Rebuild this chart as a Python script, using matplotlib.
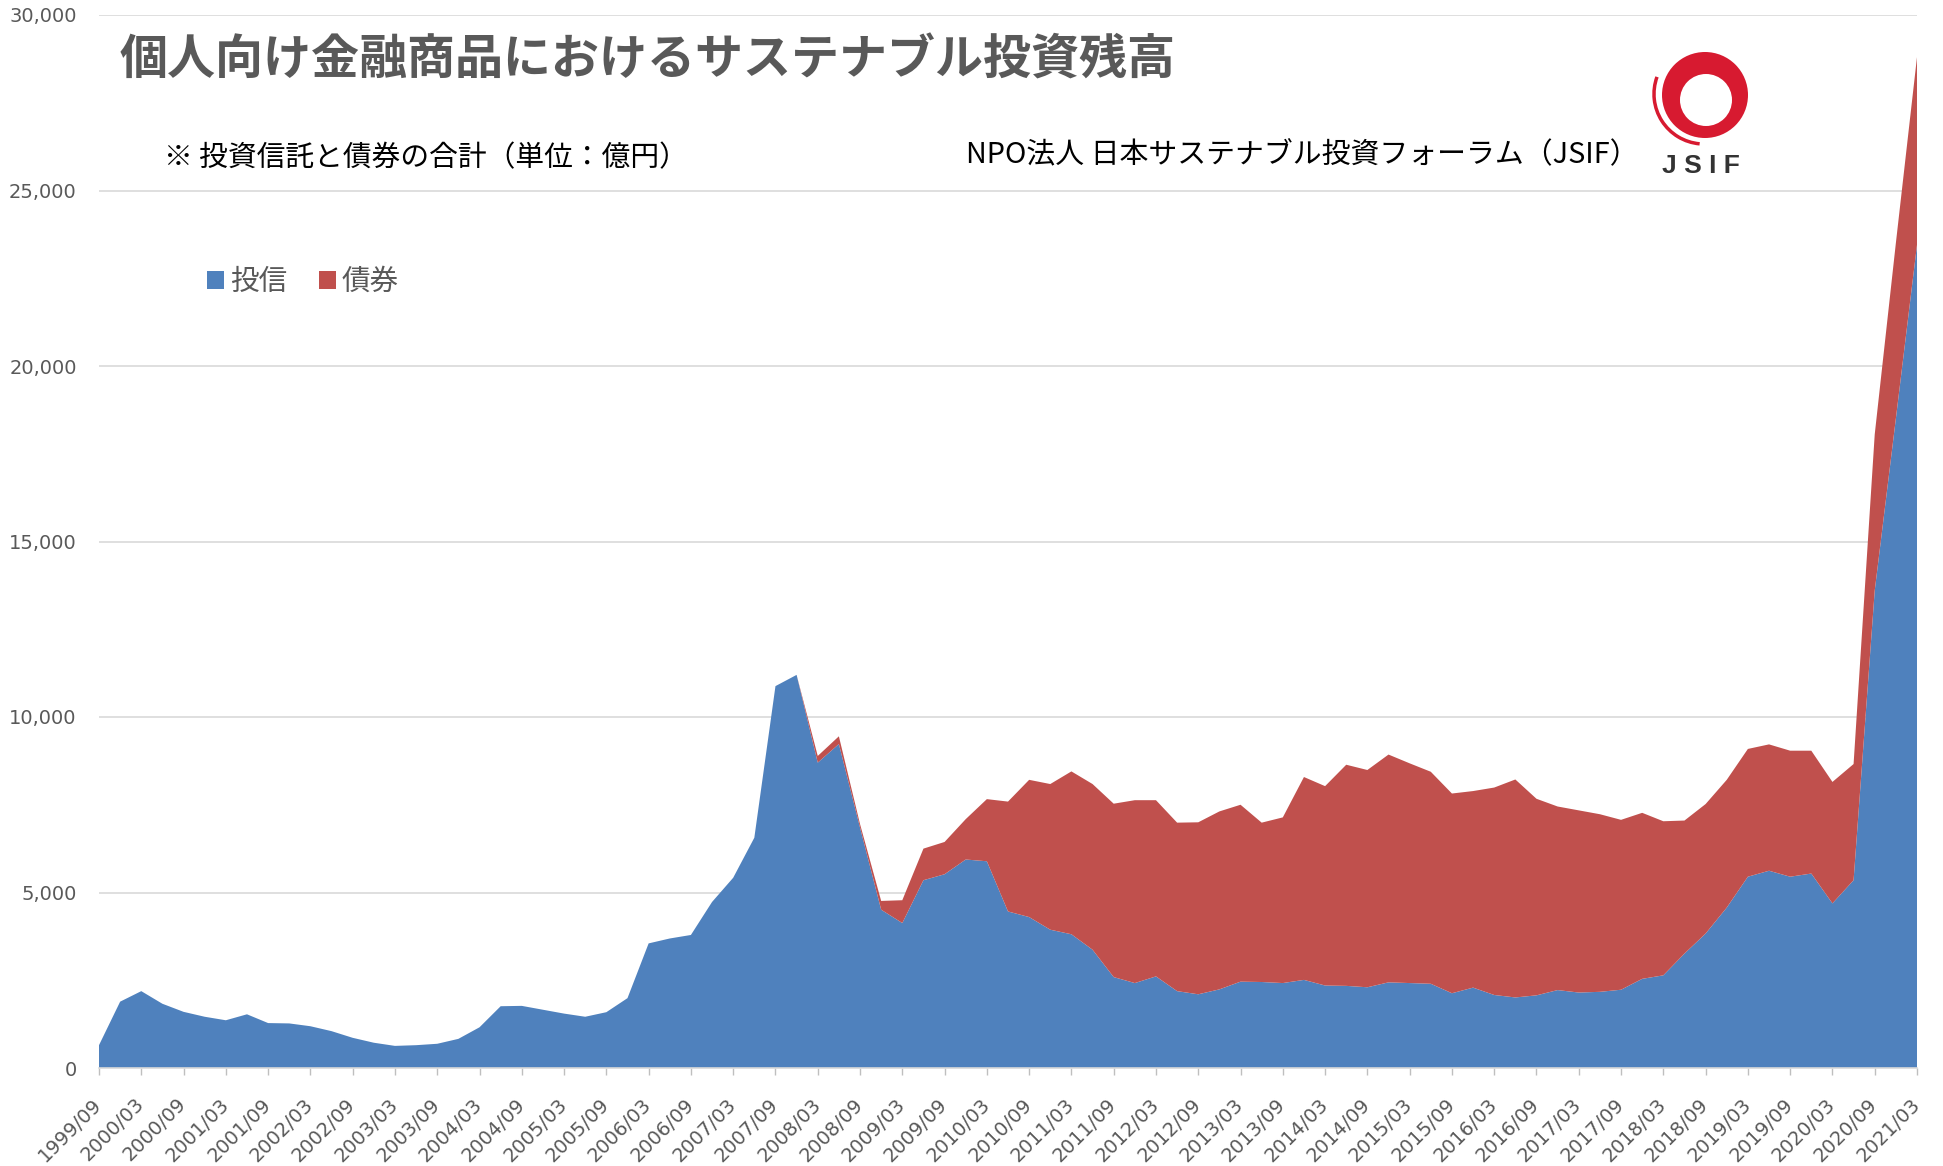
import matplotlib
matplotlib.use('Agg')
import matplotlib.pyplot as plt
from matplotlib.patches import Patch, Circle, Arc
from matplotlib.ticker import FuncFormatter
import numpy as np

# ---- data (億円) ----
quarters = [
    "1999/09", "1999/12",
    "2000/03", "2000/06", "2000/09", "2000/12",
    "2001/03", "2001/06", "2001/09", "2001/12",
    "2002/03", "2002/06", "2002/09", "2002/12",
    "2003/03", "2003/06", "2003/09", "2003/12",
    "2004/03", "2004/06", "2004/09", "2004/12",
    "2005/03", "2005/06", "2005/09", "2005/12",
    "2006/03", "2006/06", "2006/09", "2006/12",
    "2007/03", "2007/06", "2007/09", "2007/12",
    "2008/03", "2008/06", "2008/09", "2008/12",
    "2009/03", "2009/06", "2009/09", "2009/12",
    "2010/03", "2010/06", "2010/09", "2010/12",
    "2011/03", "2011/06", "2011/09", "2011/12",
    "2012/03", "2012/06", "2012/09", "2012/12",
    "2013/03", "2013/06", "2013/09", "2013/12",
    "2014/03", "2014/06", "2014/09", "2014/12",
    "2015/03", "2015/06", "2015/09", "2015/12",
    "2016/03", "2016/06", "2016/09", "2016/12",
    "2017/03", "2017/06", "2017/09", "2017/12",
    "2018/03", "2018/06", "2018/09", "2018/12",
    "2019/03", "2019/06", "2019/09", "2019/12",
    "2020/03", "2020/06", "2020/09", "2020/12",
    "2021/03",
]

toushin = [
    650, 1890,
    2190, 1830, 1600, 1460,
    1360, 1530, 1280, 1270,
    1190, 1050, 860, 720,
    630, 650, 690, 830,
    1160, 1760, 1770, 1660,
    1550, 1460, 1590, 1990,
    3550, 3690, 3790, 4730,
    5420, 6560, 10880, 11200,
    8700, 9230, 6850, 4510,
    4130, 5350, 5520, 5940,
    5890, 4460, 4300, 3940,
    3810, 3370, 2590, 2420,
    2610, 2190, 2100, 2240,
    2460, 2450, 2420, 2510,
    2350, 2340, 2300, 2440,
    2420, 2400, 2130, 2290,
    2080, 2010, 2070, 2220,
    2150, 2170, 2230, 2540,
    2640, 3260, 3830, 4570,
    5450, 5620, 5450, 5540,
    4690, 5350, 13600, 18500,
    23450,
]

saiken = [
    0, 0,
    0, 0, 0, 0,
    0, 0, 0, 0,
    0, 0, 0, 0,
    0, 0, 0, 0,
    0, 0, 0, 0,
    0, 0, 0, 0,
    0, 0, 0, 0,
    0, 0, 0, 0,
    190, 220, 100, 250,
    650, 900, 920, 1150,
    1770, 3130, 3910, 4150,
    4640, 4720, 4940, 5210,
    5020, 4800, 4900, 5070,
    5040, 4540, 4720, 5780,
    5680, 6300, 6190, 6490,
    6260, 6040, 5690, 5600,
    5910, 6210, 5600, 5230,
    5190, 5060, 4840, 4730,
    4390, 3790, 3690, 3640,
    3640, 3600, 3590, 3500,
    3460, 3310, 4450, 5000,
    5350,
]

series_names = ["投信", "債券"]
series_colors = ["#4F81BD", "#C0504D"]
yticks = [0, 5000, 10000, 15000, 20000, 25000, 30000]

title = "個人向け金融商品におけるサステナブル投資残高"
note = "※ 投資信託と債券の合計（単位：億円）"
source = "NPO法人 日本サステナブル投資フォーラム（JSIF）"

# ---- figure ----
plt.rcParams['font.family'] = ['Noto Sans CJK JP', 'DejaVu Sans']
W, H = 1943, 1166
fig = plt.figure(figsize=(W / 100, H / 100), dpi=100)
fig.patch.set_facecolor('white')

ax = fig.add_axes([99 / W, 1 - 1068 / H, (1917 - 99) / W, (1068 - 15) / H])
x = np.arange(len(quarters))
ax.stackplot(x, toushin, saiken, colors=series_colors, labels=series_names,
             linewidth=0, zorder=2)
ax.set_xlim(0, len(quarters) - 1)
ax.set_ylim(0, 30000)
ax.set_yticks(yticks)
ax.yaxis.set_major_formatter(FuncFormatter(lambda v, p: f"{int(v):,}"))
ax.grid(axis='y', color='#D9D9D9', linewidth=1.2, zorder=0)
ax.set_axisbelow(True)
for s in ['top', 'right', 'left']:
    ax.spines[s].set_visible(False)
ax.spines['bottom'].set_color('#D9D9D9')
ax.spines['bottom'].set_linewidth(1.2)
ax.spines['bottom'].set_zorder(3)

ax.set_xticks(x[::2])
ax.set_xticklabels(quarters[::2], rotation=45, ha='right', va='center',
                   rotation_mode='anchor')
ax.tick_params(axis='x', length=5, width=1.0, color='#BFBFBF', pad=19,
               labelsize=14, labelcolor='#595959', labelfontfamily='DejaVu Sans')
ax.tick_params(axis='y', length=0, pad=16, labelsize=14,
               labelcolor='#595959', labelfontfamily='DejaVu Sans')

# legend
handles = [Patch(facecolor=c, edgecolor='none') for c in series_colors]
leg = ax.legend(handles, series_names, loc='center left',
                bbox_to_anchor=(207 / W, 1 - 282 / H), bbox_transform=fig.transFigure,
                frameon=False, ncol=2, handlelength=0.6, handleheight=0.6,
                handletextpad=0.2, columnspacing=1.1, borderpad=0, borderaxespad=0,
                fontsize=20.6, labelcolor='#595959')

# texts
fig.text(120 / W, 1 - 60 / H, title, fontsize=34.6, fontweight='bold',
         color='#595959', ha='left', va='center')
fig.text(164 / W, 1 - 158 / H, note, fontsize=20.7, color='#000000',
         ha='left', va='center')
fig.text(966 / W, 1 - 155 / H, source, fontsize=20.8, color='#000000',
         ha='left', va='center')

# JSIF logo
lx0, lx1, ly0, ly1 = 1640, 1770, 25, 190
lax = fig.add_axes([lx0 / W, 1 - ly1 / H, (lx1 - lx0) / W, (ly1 - ly0) / H])
lax.set_xlim(lx0, lx1)
lax.set_ylim(ly1, ly0)
lax.axis('off')
red = '#D71A30'
lax.add_patch(Circle((1705, 95), 43, facecolor=red, edgecolor='none'))
lax.add_patch(Circle((1706, 100), 26, facecolor='white', edgecolor='none'))
lax.add_patch(Arc((1704, 94), 100, 100, theta1=95, theta2=200, color=red, lw=2.5))
lax.text(1701, 166, "J S I F", fontsize=19, fontweight='bold', color='#333333',
         ha='center', va='center', family='Liberation Sans')

fig.savefig('out.png', dpi=100)
